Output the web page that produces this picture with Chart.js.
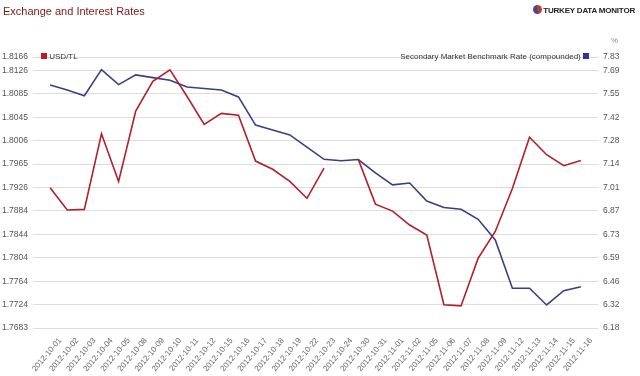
<!DOCTYPE html>
<html>
<head>
<meta charset="utf-8">
<script src="https://cdn.jsdelivr.net/npm/chart.js@4/dist/chart.umd.min.js"></script>
<style>
  body { margin: 0; background: #fff; font-family: Arial, 'Liberation Sans', sans-serif; }
  #wrap { position: relative; width: 640px; height: 376px; }
  .txt { position: absolute; white-space: nowrap; }
  #titulo { left: 3px; top: 5px; font-size: 11px; color: #7d1618; }
  #logo { right: 5px; top: 5px; font-size: 8px; font-weight: bold; color: #222; letter-spacing: -0.2px; }
  #logo i { display: inline-block; width: 9px; height: 9px; border-radius: 50%; vertical-align: -1px; margin-right: 1px;
            background: conic-gradient(#c0392b 0 50%, #3b4a9a 50% 100%); }
  #pct { left: 611px; top: 36px; font-size: 8px; color: #888; }
  .ley { font-size: 8px; color: #333; top: 52px; }
  .ley b { display: inline-block; width: 6px; height: 6px; vertical-align: 0px; }
</style>
</head>
<body>
<div id="wrap">
  <canvas id="grafica" width="640" height="376"></canvas>
  <div class="txt" id="titulo">Exchange and Interest Rates</div>
  <div class="txt" id="logo"><i></i>TURKEY DATA MONITOR</div>
  <div class="txt" id="pct">%</div>
  <div class="txt ley" id="leyIzq" style="left:41px"><b style="background:#c8141c"></b> <span id="leyIzqTxt"></span></div>
  <div class="txt ley" id="leyDer" style="right:51px"><span id="leyDerTxt"></span> <b style="background:#333399"></b></div>
</div>
<script>
// fechas del eje x
const fechas = [
  '2012-10-01', '2012-10-02', '2012-10-03', '2012-10-04', '2012-10-05', '2012-10-08', '2012-10-09', '2012-10-10',
  '2012-10-11', '2012-10-12', '2012-10-15', '2012-10-16', '2012-10-17', '2012-10-18', '2012-10-19', '2012-10-22',
  '2012-10-23', '2012-10-24', '2012-10-30', '2012-10-31', '2012-11-01', '2012-11-02', '2012-11-05', '2012-11-06',
  '2012-11-07', '2012-11-08', '2012-11-09', '2012-11-12', '2012-11-13', '2012-11-14', '2012-11-15', '2012-11-16'
];

const nombreUsd = 'USD/TL';
const usdTl = [
  1.7924, 1.7886, 1.7887, 1.8017, 1.7935, 1.8056, 1.8107, 1.8127,
  1.8081, 1.8033, 1.8052, 1.8049, 1.7970, 1.7956, 1.7935, 1.7906,
  1.7958, null, 1.7973, 1.7896, 1.7884, 1.7860, 1.7843, 1.7723,
  1.7721, 1.7803, 1.7849, 1.7923, 1.8011, 1.7981, 1.7962, 1.7971
];

const nombreTasa = 'Secondary Market Benchmark Rate (compounded)';
const tasa = [
  7.605, 7.576, 7.542, 7.695, 7.607, 7.664, 7.648, 7.633,
  7.593, 7.584, 7.576, 7.535, 7.370, 7.341, 7.312, 7.241,
  7.169, 7.161, 7.168, 7.089, 7.019, 7.030, 6.925, 6.887,
  6.876, 6.817, 6.696, 6.413, 6.413, 6.315, 6.399, 6.422
];

// etiquetas de los ejes
const ticksIzq = ['1.7683', '1.7724', '1.7764', '1.7804', '1.7844', '1.7884', '1.7926', '1.7965', '1.8006', '1.8045', '1.8085', '1.8126', '1.8166'];
const ticksDer = ['6.18', '6.32', '6.46', '6.59', '6.73', '6.87', '7.01', '7.14', '7.28', '7.42', '7.55', '7.69', '7.83'];
const izqMin = 1.7683, izqPaso = 0.004025, izqMax = 1.8149;
const derMin = 6.18, derPaso = 0.13727, derMax = 7.769;

document.getElementById('leyIzqTxt').textContent = nombreUsd;
document.getElementById('leyDerTxt').textContent = nombreTasa;

const valoresTicks = (lista, min, paso, max) =>
  lista.map((t, i) => ({ value: i < lista.length - 1 ? min + i * paso : max }));

const fuente = { family: "Arial, 'Liberation Sans', sans-serif", size: 8.5 };

const ctx = document.getElementById('grafica').getContext('2d');

new Chart(ctx, {
  type: 'line',
  data: {
    datasets: [
      {
        label: nombreUsd,
        data: usdTl.map((v, i) => ({ x: i, y: v })),
        borderColor: '#b3202a',
        borderWidth: 1.6,
        pointRadius: 0,
        yAxisID: 'y',
      },
      {
        label: nombreTasa,
        data: tasa.map((v, i) => ({ x: i, y: v })),
        borderColor: '#3d3d85',
        borderWidth: 1.6,
        pointRadius: 0,
        yAxisID: 'y1',
      }
    ]
  },
  options: {
    responsive: false,
    animation: false,
    layout: { padding: { top: 57, left: 0, right: 0, bottom: 0 } },
    plugins: {
      legend: { display: false },
      title: { display: false },
      tooltip: { enabled: false }
    },
    scales: {
      x: {
        type: 'linear',
        min: -1,
        max: fechas.length,
        afterBuildTicks: s => { s.ticks = fechas.map((f, i) => ({ value: i })); },
        afterFit: s => { s.height = 48; },
        grid: { display: false },
        border: { display: false },
        ticks: {
          autoSkip: false, minRotation: 50, maxRotation: 50, labelOffset: 10, padding: 0,
          color: '#666', font: { family: fuente.family, size: 8 },
          callback: v => fechas[v]
        }
      },
      y: {
        position: 'left',
        min: izqMin,
        max: izqMax,
        afterBuildTicks: s => { s.ticks = valoresTicks(ticksIzq, izqMin, izqPaso, izqMax); },
        afterFit: s => { s.width = 33; },
        grid: { color: '#dddddd', drawTicks: false },
        border: { display: false },
        ticks: { padding: 5, color: '#555', font: fuente, callback: (v, i) => ticksIzq[i] }
      },
      y1: {
        position: 'right',
        min: derMin,
        max: derMax,
        afterBuildTicks: s => { s.ticks = valoresTicks(ticksDer, derMin, derPaso, derMax); },
        afterFit: s => { s.width = 42; },
        grid: { display: false, drawTicks: false },
        border: { display: false },
        ticks: { padding: 5, color: '#555', font: fuente, callback: (v, i) => ticksDer[i] }
      }
    }
  }
});
</script>
</body>
</html>
